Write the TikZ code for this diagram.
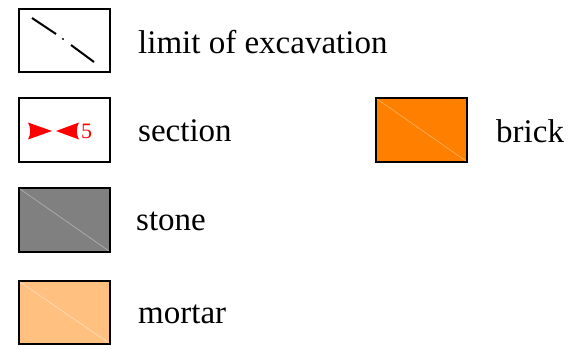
\documentclass[tikz,border=0pt]{standalone}
\usepackage{fontspec}
\setmainfont{Liberation Serif}
\begin{document}
\begin{tikzpicture}[x=1pt,y=-1pt,
  box/.style={draw=black,line width=2pt},
  lbl/.style={anchor=west,font=\fontsize{33}{38}\selectfont,inner sep=0pt},
  diag/.style={line width=0.6pt}]
\useasboundingbox (0,0) rectangle (572,350);
\definecolor{stonec}{HTML}{808080}
\definecolor{mortarc}{HTML}{FFC080}
\definecolor{brickc}{HTML}{FF8000}
% limit of excavation
\draw[box,fill=white] (19,9) rectangle (110,72);
\coordinate (e1) at (32,18); \coordinate (e2) at (56,34);
\coordinate (e3) at (71,45); \coordinate (e4) at (94,62);
\draw[line width=2pt] (e1) -- (e2);
\draw[line width=2pt] (e3) -- (e4);
\fill (63,39) circle (1.1pt);
\node[lbl] (t1) at (138,42) {limit of excavation};
% section
\draw[box,fill=white] (19,98) rectangle (110,162);
\fill[red] (52,131) -- (28,122.5) .. controls (31,128) and (31,134) .. (28,139.5) -- cycle;
\fill[red] (56,131) -- (79,122.5) .. controls (76,128) and (76,134) .. (79,139.5) -- cycle;
\node[anchor=west,inner sep=0pt,text=red,font=\fontsize{22}{24}\selectfont] (n5) at (81,131) {5};
\node[lbl] (t2) at (138,131) {section};
% brick
\draw[box,fill=brickc] (376,98) rectangle (467,162);
\draw[diag,draw=brickc!60!white] (377,99) -- (466,161);
\node[lbl] (t5) at (496,131) {brick};
% stone
\draw[box,fill=stonec] (19,188) rectangle (110,252);
\draw[diag,draw=stonec!60!white] (20,189) -- (109,251);
\node[lbl] (t3) at (136,221) {stone};
% mortar
\draw[box,fill=mortarc] (19,281) rectangle (110,344);
\draw[diag,draw=mortarc!50!white] (20,282) -- (109,343);
\node[lbl] (t4) at (138,314) {mortar};
\end{tikzpicture}
\end{document}
